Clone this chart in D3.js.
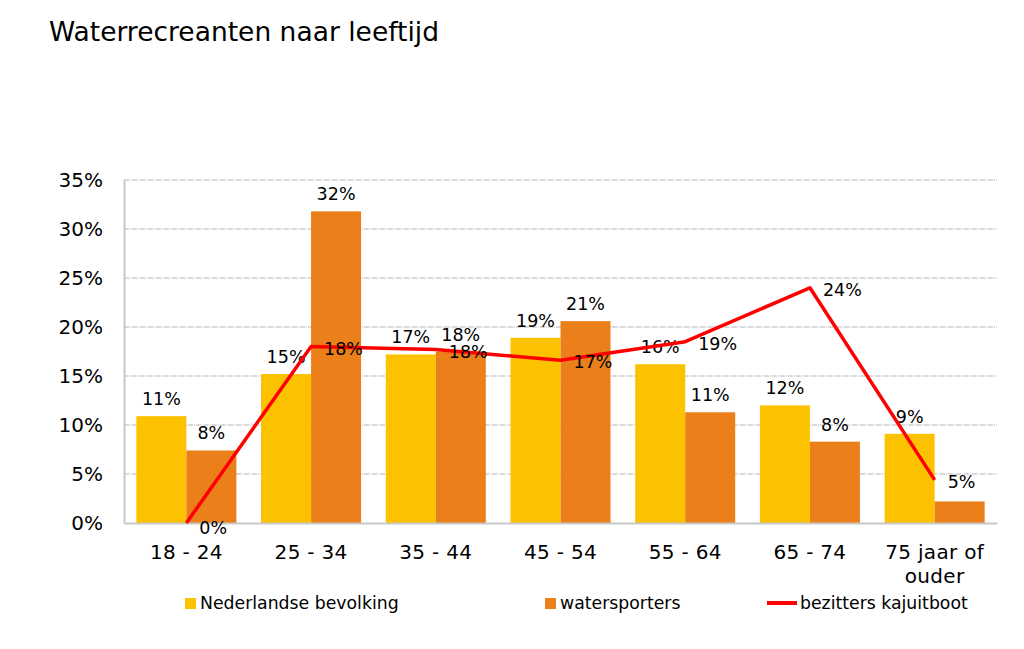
<!DOCTYPE html>
<html><head><meta charset="utf-8">
<script src="https://cdn.jsdelivr.net/npm/d3@7"></script>
<style>
html,body{margin:0;padding:0;background:#fff;}
svg{display:block;font-family:"DejaVu Sans",Verdana,sans-serif;}
</style></head>
<body>
<svg id="chart" width="1024" height="649"></svg>
<script>
const categories = ["18 - 24","25 - 34","35 - 44","45 - 54","55 - 64","65 - 74","75 jaar of\nouder"];
const nederlandseBevolking = [10.9, 15.2, 17.2, 18.9, 16.2, 12.0, 9.1];
const watersporters = [7.4, 31.8, 17.5, 20.6, 11.3, 8.3, 2.2];
const bezittersKajuitboot = [0, 18.0, 17.7, 16.6, 18.5, 24.0, 4.4];
const nbLabels = ["11%","15%","17%","19%","16%","12%","9%"];
const wsLabels = ["8%","32%","18%","21%","11%","8%",""];
const kbLabels = ["0%","18%","18%","17%","19%","24%","5%"];
const yTicks = [0,5,10,15,20,25,30,35];
const seriesNames = ["Nederlandse bevolking","watersporters","bezitters kajuitboot"];
const colors = ["#FCC200","#EB801A","#FF0000"];

const svg = d3.select("#chart");
const plotL = 124, plotR = 997, plotT = 180, plotB = 523;

const x = d3.scaleBand().domain(categories).range([plotL, plotR]).padding(0);
const xs = d3.scaleBand().domain([0,1]).range([0, x.bandwidth()]).paddingInner(0).paddingOuter(0.247);
const y = d3.scaleLinear().domain([0,35]).range([plotB, plotT]);

// title
svg.append("text").attr("x", 49).attr("y", 41).attr("font-size", 26.5).attr("fill", "#000")
  .text("Waterrecreanten naar leeftijd");

// gridlines
svg.append("g").selectAll("line").data(yTicks.filter(d => d > 0)).join("line")
  .attr("x1", plotL).attr("x2", plotR).attr("y1", d => y(d)).attr("y2", d => y(d))
  .attr("stroke", "#b4b4b4").attr("stroke-width", 1).attr("stroke-dasharray", "5,1,1,1");

// y axis
const ya = svg.append("g").attr("transform", `translate(${plotL},0)`)
  .call(d3.axisLeft(y).tickValues(yTicks).tickFormat(d => d + "%").tickSize(0).tickPadding(21));
ya.select(".domain").attr("stroke", "#c8c8c8").attr("stroke-width", 2);
ya.selectAll("text").attr("font-size", 20).attr("fill", "#000").attr("font-family", "DejaVu Sans");

// bars
const groups = svg.append("g").selectAll("g").data(categories).join("g")
  .attr("transform", d => `translate(${x(d)},0)`);
[nederlandseBevolking, watersporters].forEach((vals, s) => {
  groups.append("rect")
    .attr("x", xs(s)).attr("width", xs.bandwidth())
    .attr("y", (d, i) => y(vals[i])).attr("height", (d, i) => y(0) - y(vals[i]))
    .attr("fill", colors[s]);
});

// x axis
const xa = svg.append("g").attr("transform", `translate(0,${plotB})`)
  .call(d3.axisBottom(x).tickSize(0).tickPadding(0).tickFormat(""));
xa.select(".domain").attr("stroke", "#c8c8c8").attr("stroke-width", 2);
xa.selectAll(".tick").each(function(d) {
  const lines = d.split("\n");
  const t = d3.select(this).append("text").attr("fill", "#000").attr("font-size", 20)
    .attr("letter-spacing", 0.3).attr("text-anchor", "middle").attr("font-family", "DejaVu Sans");
  lines.forEach((ln, i) => t.append("tspan").attr("x", 0).attr("y", 36 + i * 24).text(ln));
});

// bar labels
[ [nederlandseBevolking, nbLabels], [watersporters, wsLabels] ].forEach(([vals, labs], s) => {
  svg.append("g").selectAll("text").data(categories).join("text")
    .attr("x", d => x(d) + xs(s) + xs.bandwidth() / 2)
    .attr("y", (d, i) => y(vals[i]) - 11)
    .attr("text-anchor", "middle").attr("font-size", 17.5).attr("fill", "#000")
    .text((d, i) => labs[i]);
});

// line
const line = d3.line().x((d, i) => x(categories[i]) + x.bandwidth() / 2).y(d => y(d));
svg.append("path").datum(bezittersKajuitboot).attr("d", line)
  .attr("fill", "none").attr("stroke", colors[2]).attr("stroke-width", 3.5).attr("stroke-linejoin", "round");

svg.append("g").selectAll("text").data(bezittersKajuitboot).join("text")
  .attr("x", (d, i) => x(categories[i]) + x.bandwidth() / 2 + 13)
  .attr("y", (d, i) => y(d) + 2 + (i === 0 ? 3 : 0))
  .attr("dy", "0.35em").attr("font-size", 17.5).attr("fill", "#000")
  .text((d, i) => kbLabels[i]);

// legend
const leg = svg.append("g");
const legX = [185, 545, 767];
seriesNames.forEach((name, i) => {
  if (i < 2) {
    leg.append("rect").attr("x", legX[i]).attr("y", 598).attr("width", 11).attr("height", 11).attr("fill", colors[i]);
    leg.append("text").attr("x", legX[i] + 15).attr("y", 609).attr("font-size", 17.3).attr("fill", "#000").text(name);
  } else {
    leg.append("line").attr("x1", legX[i]).attr("x2", legX[i] + 30).attr("y1", 603).attr("y2", 603)
      .attr("stroke", colors[i]).attr("stroke-width", 4);
    leg.append("text").attr("x", legX[i] + 33).attr("y", 609).attr("font-size", 17.3).attr("fill", "#000").text(name);
  }
});
</script>
</body></html>
